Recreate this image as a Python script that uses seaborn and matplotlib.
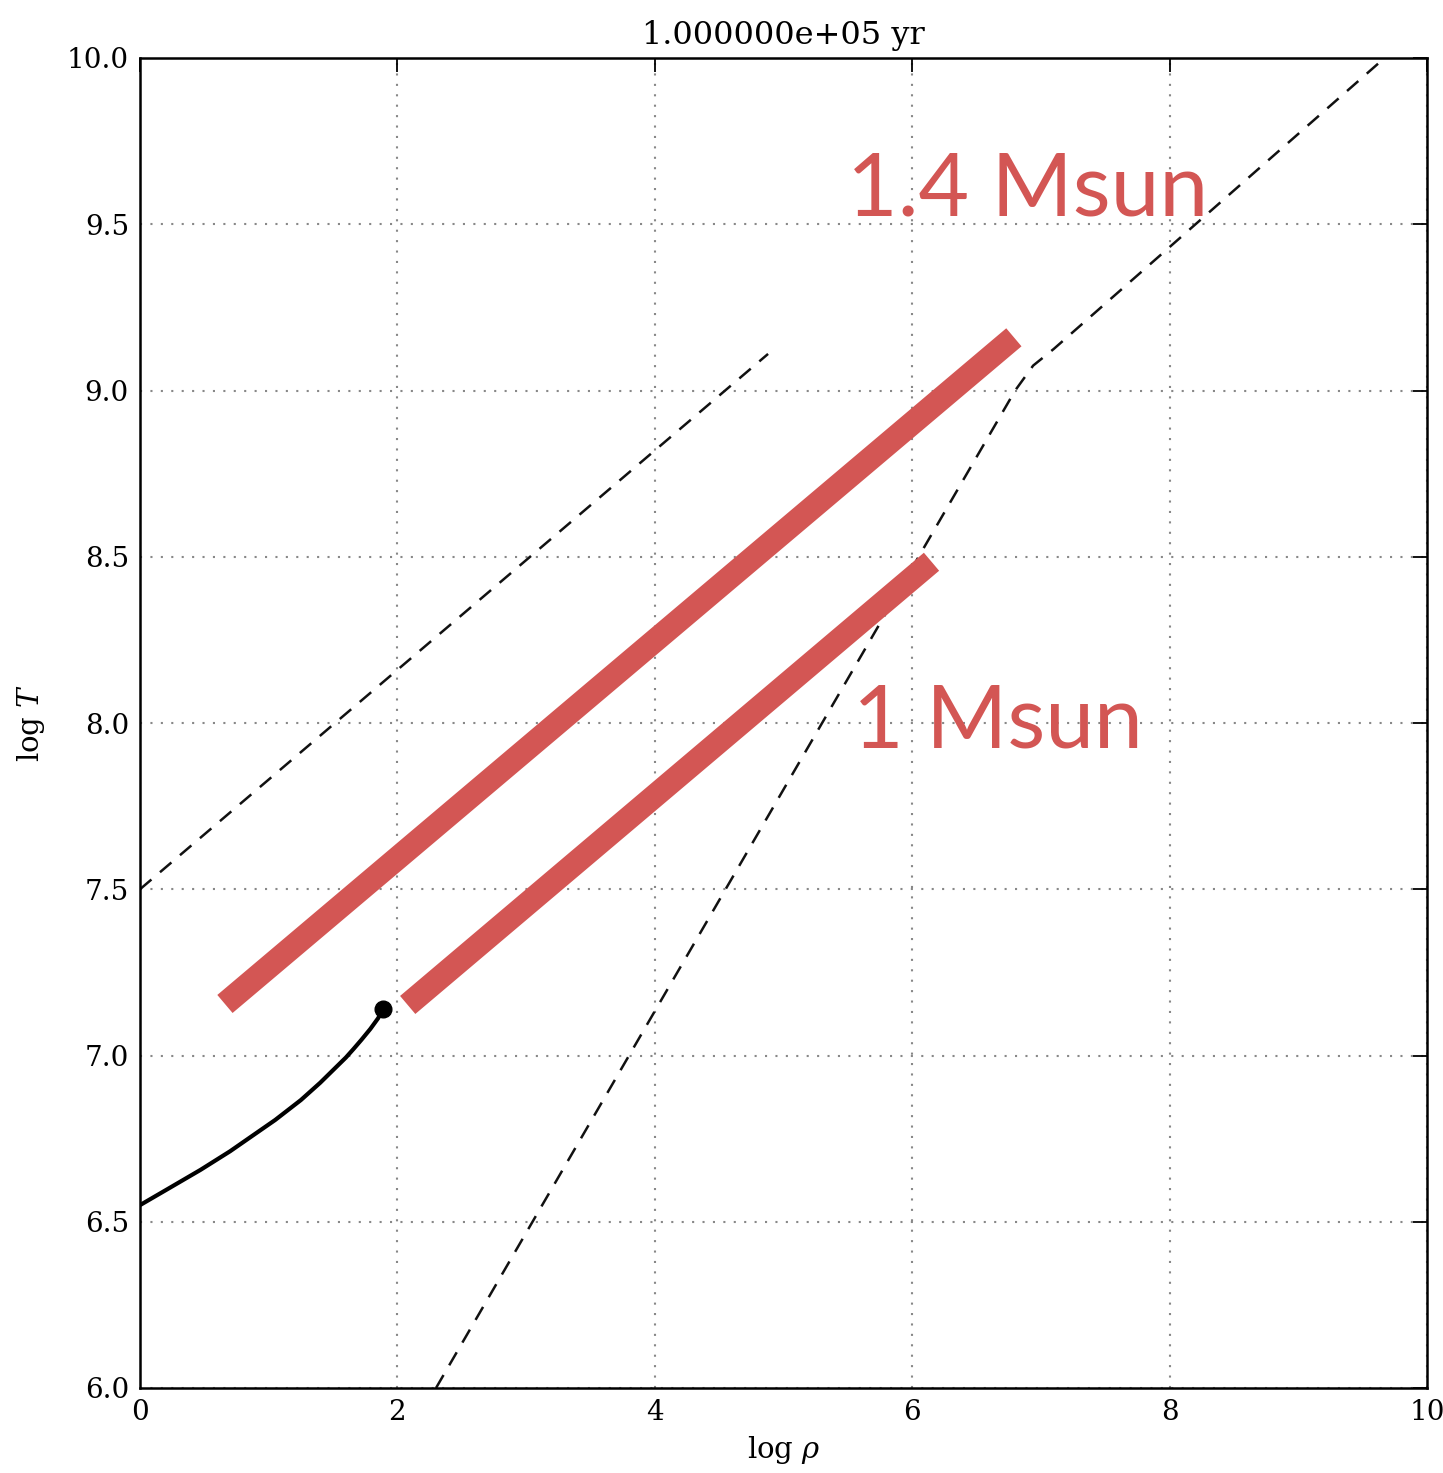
import numpy as np
import pandas as pd
import seaborn as sns
import matplotlib
matplotlib.use("Agg")
import matplotlib.pyplot as plt

# ---- data ----
track_logrho = [0.0, 0.20, 0.47, 0.70, 0.86, 1.05, 1.25, 1.40, 1.50, 1.60, 1.66,
                1.72, 1.79, 1.85, 1.89]
track_logT = [6.55, 6.595, 6.656, 6.712, 6.755, 6.806, 6.866, 6.918, 6.956, 6.994,
              7.020, 7.047, 7.080, 7.112, 7.14]

rad_logrho = [0.0, 4.88]
rad_logT = [7.50, 9.11]

degen_logrho = [2.30, 6.80, 6.94, 7.10, 9.67]
degen_logT = [6.00, 9.00, 9.075, 9.125, 10.00]

m14_logrho = [0.66, 6.79]
m14_logT = [7.155, 9.16]
m1_logrho = [2.08, 6.15]
m1_logT = [7.152, 8.485]

labels = ["1.4 Msun", "1 Msun"]
label_pos_rho = [6.90, 6.67]
label_pos_T = [9.60, 8.00]

title = "1.000000e+05 yr"

# ---- style ----
sns.set_theme(style="white")
plt.rcParams["font.family"] = ["DejaVu Serif"]
plt.rcParams["mathtext.fontset"] = "dejavuserif"
plt.rcParams["xtick.direction"] = "in"
plt.rcParams["ytick.direction"] = "in"
plt.rcParams["text.color"] = "black"
plt.rcParams["axes.labelcolor"] = "black"
plt.rcParams["xtick.color"] = "black"
plt.rcParams["ytick.color"] = "black"

fig = plt.figure(figsize=(14.43, 14.73), dpi=100)
ax = fig.add_axes([140 / 1443, 1 - 1388 / 1473, (1427 - 140) / 1443, (1388 - 58) / 1473])

red = "#d35654"

sns.lineplot(x=rad_logrho, y=rad_logT, ax=ax, color="#111111", lw=1.8,
             linestyle=(0, (6, 4.5)), sort=False)
sns.lineplot(x=degen_logrho, y=degen_logT, ax=ax, color="#111111", lw=1.8,
             linestyle=(0, (6, 4.5)), sort=False)
sns.lineplot(x=track_logrho, y=track_logT, ax=ax, color="black", lw=3.0, sort=False)
ax.plot(track_logrho[-1], track_logT[-1], "o", color="black", ms=12, zorder=5)

for xs, ys in [(m14_logrho, m14_logT), (m1_logrho, m1_logT)]:
    ax.plot(xs, ys, color=red, lw=17, solid_capstyle="butt", zorder=4)

for lab, x, y in zip(labels, label_pos_rho, label_pos_T):
    ax.text(x, y, lab, color=red, fontsize=63, family=["Lato", "DejaVu Sans"],
            ha="center", va="center", zorder=6)

ax.set_xlim(0, 10)
ax.set_ylim(6.0, 10.0)
ax.set_xticks([0, 2, 4, 6, 8, 10])
ax.set_yticks(np.arange(6.0, 10.01, 0.5))
ax.set_yticklabels([f"{v:.1f}" for v in np.arange(6.0, 10.01, 0.5)])
ax.grid(True, linestyle=(0, (1, 4)), color="#888888", lw=1.5)
ax.tick_params(axis="both", length=10, width=1.3, color="black", labelsize=20,
               pad=8, top=True, right=True)
for s in ax.spines.values():
    s.set_color("black")
    s.set_linewidth(1.8)

ax.set_xlabel(r"$\log\,\rho$", fontsize=21, labelpad=6)
ax.set_ylabel(r"$\log\,T$", fontsize=21, labelpad=14)
ax.set_title(title, fontsize=23, pad=10)

fig.savefig("out.png", dpi=100, facecolor="white")
